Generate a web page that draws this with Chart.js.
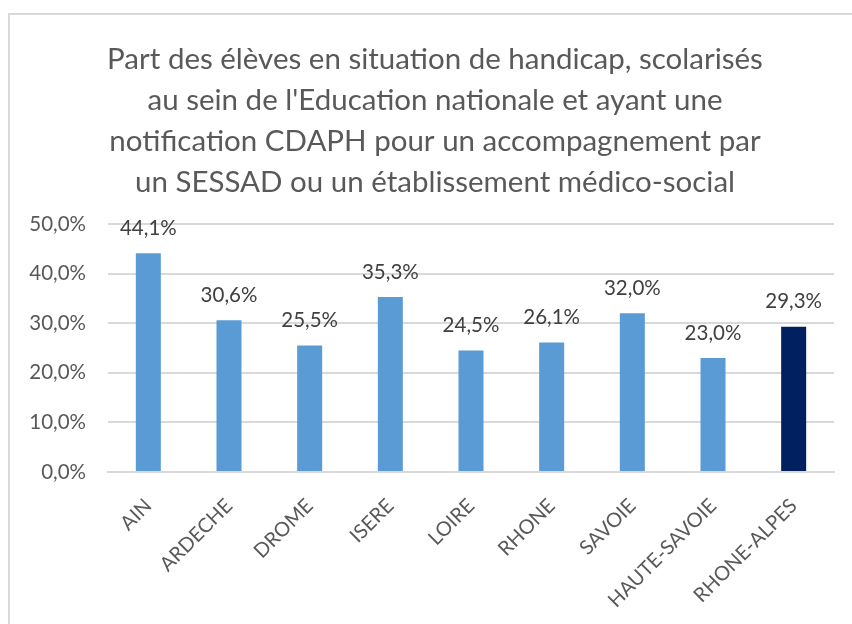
<!DOCTYPE html>
<html>
<head>
<meta charset="utf-8">
<script src="https://cdn.jsdelivr.net/npm/chart.js@4/dist/chart.umd.min.js"></script>
<style>
  html, body { margin: 0; padding: 0; background: #fff; overflow: hidden; }
  #frame {
    position: absolute; left: 8px; top: 13px;
    width: 900px; height: 700px;
    border: 2px solid #d9d9d9;
  }
  #wrap { position: absolute; left: 0; top: 0; width: 842px; height: 609px; }
</style>
</head>
<body>
<div id="frame">
  <div id="wrap"><canvas id="chart"></canvas></div>
</div>
<script>
const titleLines = [
  "Part des élèves en situation de handicap, scolarisés",
  "au sein de l'Education nationale et ayant une",
  "notification CDAPH pour un accompagnement par",
  "un SESSAD ou un établissement médico-social"
];
const departements = ["AIN", "ARDECHE", "DROME", "ISERE", "LOIRE", "RHONE", "SAVOIE", "HAUTE-SAVOIE", "RHONE-ALPES"];
const parts = [44.1, 30.6, 25.5, 35.3, 24.5, 26.1, 32.0, 23.0, 29.3];
const barColors = ["#5b9bd5", "#5b9bd5", "#5b9bd5", "#5b9bd5", "#5b9bd5", "#5b9bd5", "#5b9bd5", "#5b9bd5", "#002060"];

const fontFamily = "Lato, 'Open Sans', sans-serif";
const fmt = (v, d) => v.toFixed(d).replace(".", ",") + "%";

// valeurs au-dessus des barres
const valueLabels = {
  id: "valueLabels",
  afterDatasetsDraw(chart) {
    const ctx = chart.ctx;
    const meta = chart.getDatasetMeta(0);
    ctx.save();
    ctx.font = "20.5px " + fontFamily;
    ctx.fillStyle = "#404040";
    ctx.textAlign = "center";
    ctx.textBaseline = "middle";
    meta.data.forEach((bar, i) => {
      ctx.fillText(fmt(parts[i], 1), bar.x, bar.y - 25);
    });
    ctx.restore();
  }
};

new Chart(document.getElementById("chart"), {
  type: "bar",
  data: {
    labels: departements,
    datasets: [{
      data: parts,
      backgroundColor: barColors,
      borderWidth: 0,
      barPercentage: 0.31,
      categoryPercentage: 1,
    }],
  },
  options: {
    responsive: true,
    maintainAspectRatio: false,
    animation: false,
    layout: { padding: { left: 8, right: 0, top: 0, bottom: 0 } },
    plugins: {
      legend: { display: false },
      tooltip: { enabled: false },
      title: {
        display: true,
        text: titleLines,
        color: "#595959",
        font: { family: fontFamily, size: 29.5, weight: "normal", lineHeight: 1.39 },
        padding: { top: 24, bottom: 21 },
      },
    },
    scales: {
      x: {
        grid: { display: false },
        border: { color: "#d9d9d9", width: 2 },
        ticks: {
          color: "#595959",
          font: { family: fontFamily, size: 20 },
          maxRotation: 45,
          minRotation: 45,
          padding: 14,
        },
        afterFit(scale) { scale.height = 152; },
      },
      y: {
        min: 0,
        max: 50,
        border: { display: false },
        grid: { color: "#d9d9d9", lineWidth: 2, drawTicks: false },
        ticks: {
          stepSize: 10,
          color: "#595959",
          font: { family: fontFamily, size: 20.5 },
          padding: 22,
          callback: (v) => fmt(v, 1),
        },
        afterFit(scale) { scale.width = 90; },
      },
      // marge droite vide
      yRight: {
        position: "right",
        min: 0,
        max: 50,
        grid: { display: false },
        border: { display: false },
        ticks: { display: false },
        afterFit(scale) { scale.width = 18; },
      },
    },
  },
  plugins: [valueLabels],
});
</script>
</body>
</html>
